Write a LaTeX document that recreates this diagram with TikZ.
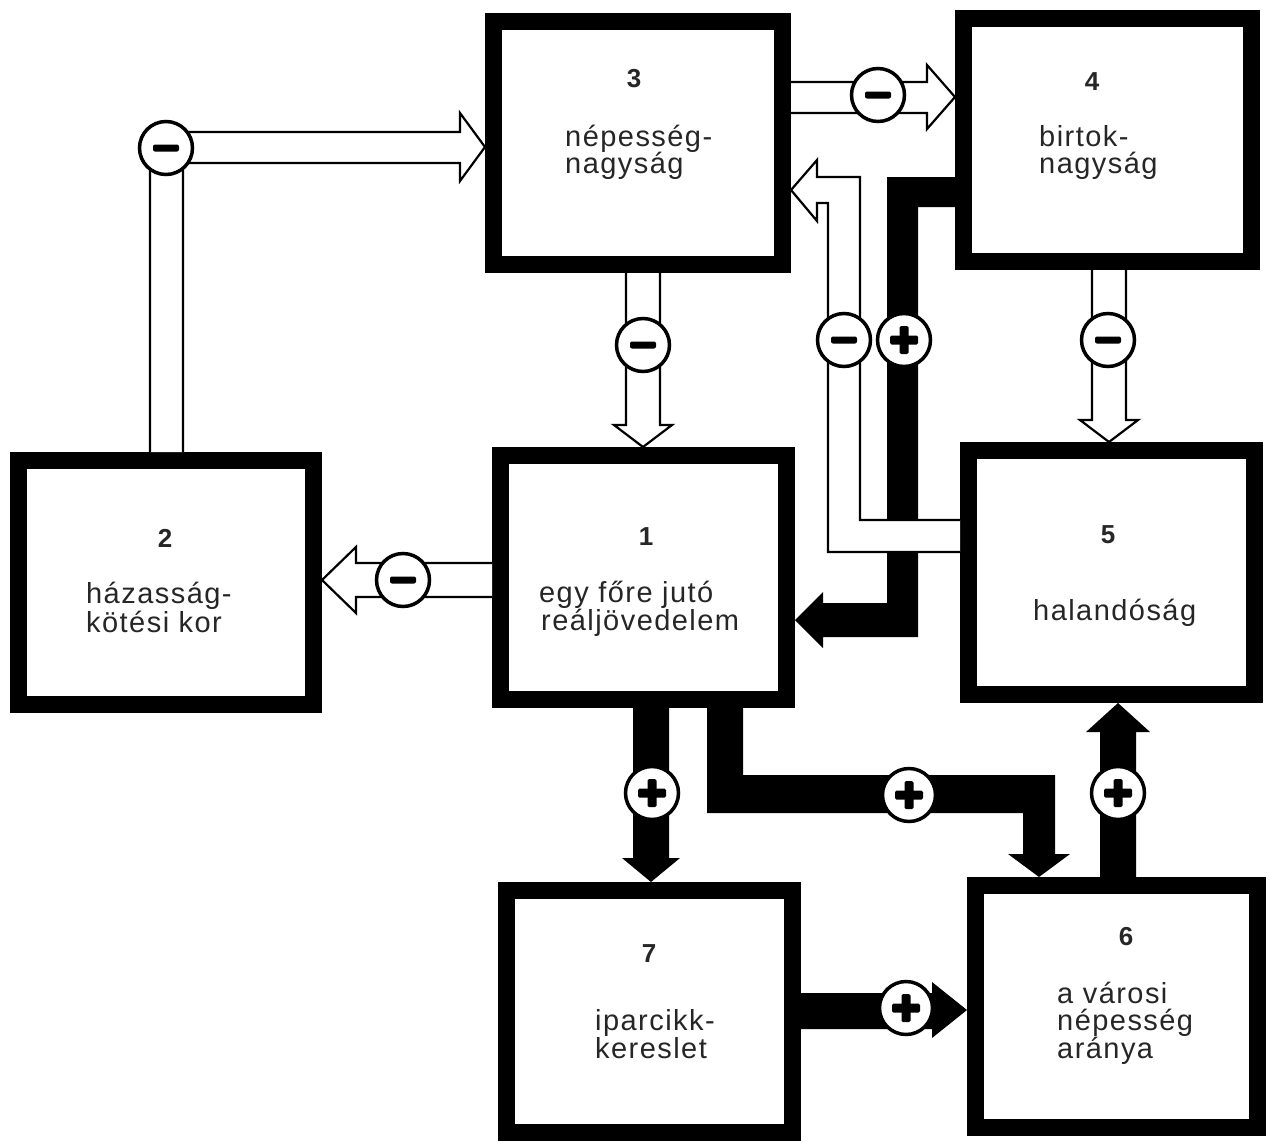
\documentclass[tikz,border=0pt]{standalone}
\usepackage{fontspec}
\setmainfont{Liberation Sans}
\newfontfamily\labfont{Liberation Sans}[LetterSpace=5]
\begin{document}
\begin{tikzpicture}[x=1pt,y=-1pt,
  box/.style={draw=black, line width=17pt, fill=white, inner sep=0pt, outer sep=8.5pt},
  hollow/.style={draw=black, line width=2.2pt, fill=white, line join=miter},
  blackpipe/.style={fill=black},
  sign/.style={circle, draw=black, line width=3.5pt, fill=white, minimum size=53pt, inner sep=0pt},
  minus/.style={sign, path picture={\fill[black, rounded corners=2pt] ([xshift=-13pt,yshift=-3.5pt]path picture bounding box.center) rectangle ([xshift=13pt,yshift=3.5pt]path picture bounding box.center);}},
  plus/.style={sign, path picture={
     \fill[black, rounded corners=1.5pt] ([xshift=-14pt,yshift=-4.5pt]path picture bounding box.center) rectangle ([xshift=14pt,yshift=4.5pt]path picture bounding box.center);
     \fill[black, rounded corners=1.5pt] ([xshift=-4.5pt,yshift=-14pt]path picture bounding box.center) rectangle ([xshift=4.5pt,yshift=14pt]path picture bounding box.center);}},
  num/.style={font=\fontsize{26}{26}\selectfont\bfseries, anchor=base, inner sep=0pt, text=black!85},
  lab/.style={font=\labfont\fontsize{29}{29}\selectfont, anchor=base west, inner sep=0pt, text=black!85},
]
\useasboundingbox (0,0) rectangle (1270,1141);
\fill[white] (0,0) rectangle (1270,1141);

% boxes
\node[box, minimum width=289pt, minimum height=243pt] (b3) at (638,143) {};
\node[box, minimum width=288pt, minimum height=243pt] (b4) at (1107.5,140) {};
\node[box, minimum width=295pt, minimum height=244pt] (b2) at (166,582.5) {};
\node[box, minimum width=286pt, minimum height=244pt] (b1) at (643.5,577.5) {};
\node[box, minimum width=286pt, minimum height=244pt] (b5) at (1111.5,572.5) {};
\node[box, minimum width=286pt, minimum height=242pt] (b7) at (649.5,1011.5) {};
\node[box, minimum width=282pt, minimum height=242pt] (b6) at (1116.5,1006.5) {};

% texts
\node[num] (n3) at (634,87) {3};
\node[lab] (t3a) at (565,146) {népesség-};
\node[lab] (t3b) at (565,173) {nagyság};
\node[num] (n4) at (1092,90) {4};
\node[lab] (t4a) at (1039,146) {birtok-};
\node[lab] (t4b) at (1039,173) {nagyság};
\node[num] (n2) at (165,547) {2};
\node[lab] (t2a) at (86,603) {házasság-};
\node[lab] (t2b) at (86,632) {kötési kor};
\node[num] (n1) at (646,545) {1};
\node[lab] (t1a) at (539,602) {egy főre jutó};
\node[lab] (t1b) at (541,630) {reáljövedelem};
\node[num] (n5) at (1108,543) {5};
\node[lab] (t5a) at (1033,620) {halandóság};
\node[num] (n7) at (649,962) {7};
\node[lab] (t7a) at (595,1030) {iparcikk-};
\node[lab] (t7b) at (595,1058) {kereslet};
\node[num] (n6) at (1126,945) {6};
\node[lab] (t6a) at (1057,1003) {a városi};
\node[lab] (t6b) at (1057,1030) {népesség};
\node[lab] (t6c) at (1057,1058) {aránya};

% black (positive) connectors
\fill[blackpipe] (b4.west |- 0,177) -- (887,177) -- (887,603) -- (823,603) -- (823,592) -- (b1.east |- 0,620) -- (823,648) -- (823,637) -- (918,637) -- (918,207) -- (b4.west |- 0,207) -- cycle;
\fill[blackpipe] (b1.south -| 633,0) -- (633,858) -- (622,858) -- (b7.north -| 651,0) -- (680,858) -- (669,858) -- (b1.south -| 669,0) -- cycle;
\fill[blackpipe] (b1.south -| 707,0) -- (707,813) -- (1023,813) -- (1023,854) -- (1008,854) -- (b6.north -| 1039,0) -- (1070,854) -- (1055,854) -- (1055,775) -- (743,775) -- (b1.south -| 743,0) -- cycle;
\fill[blackpipe] (b6.north -| 1100,0) -- (1100,732) -- (1086,732) -- (b5.south -| 1118,0) -- (1150,732) -- (1136,732) -- (b6.north -| 1136,0) -- cycle;
\fill[blackpipe] (b7.east |- 0,993) -- (932,993) -- (932,982) -- (b6.west |- 0,1010) -- (932,1038) -- (932,1029) -- (b7.east |- 0,1029) -- cycle;

% hollow (negative) connectors
\path[hollow] (b2.north -| 150,0) -- (150,132) -- (460,132) -- (460,113) -- (b3.west |- 0,147) -- (460,181) -- (460,163) -- (183,163) -- (b2.north -| 183,0);
\path[hollow] (b3.east |- 0,82) -- (927,82) -- (927,65) -- (b4.west |- 0,97) -- (927,129) -- (927,113) -- (b3.east |- 0,113);
\path[hollow] (b3.south -| 626,0) -- (626,425) -- (614,425) -- (b1.north -| 643,0) -- (672,425) -- (660,425) -- (b3.south -| 660,0);
\path[hollow] (b4.south -| 1092,0) -- (1092,420) -- (1080,420) -- (b5.north -| 1109,0) -- (1138,420) -- (1126,420) -- (b4.south -| 1126,0);
\path[hollow] (b1.west |- 0,563) -- (356,563) -- (356,547) -- (b2.east |- 0,580) -- (356,613) -- (356,597) -- (b1.west |- 0,597);
\path[hollow] (b5.west |- 0,520) -- (860,520) -- (860,177) -- (817,177) -- (817,160) -- (b3.east |- 0,190) -- (817,221) -- (817,203) -- (828,203) -- (828,552) -- (b5.west |- 0,552);

% signs
\node[minus] (s23) at (166,148) {};
\node[minus] (s34) at (878,95) {};
\node[minus] (s31) at (643,345) {};
\node[minus] (s12) at (403,580) {};
\node[minus] (s45) at (1108,340) {};
\node[minus] (s53) at (844,340) {};
\node[plus] (s41) at (904,340) {};
\node[plus] (s17) at (652,793) {};
\node[plus] (s16) at (909,795) {};
\node[plus] (s65) at (1118,793) {};
\node[plus] (s76) at (906,1008) {};
\end{tikzpicture}
\end{document}
